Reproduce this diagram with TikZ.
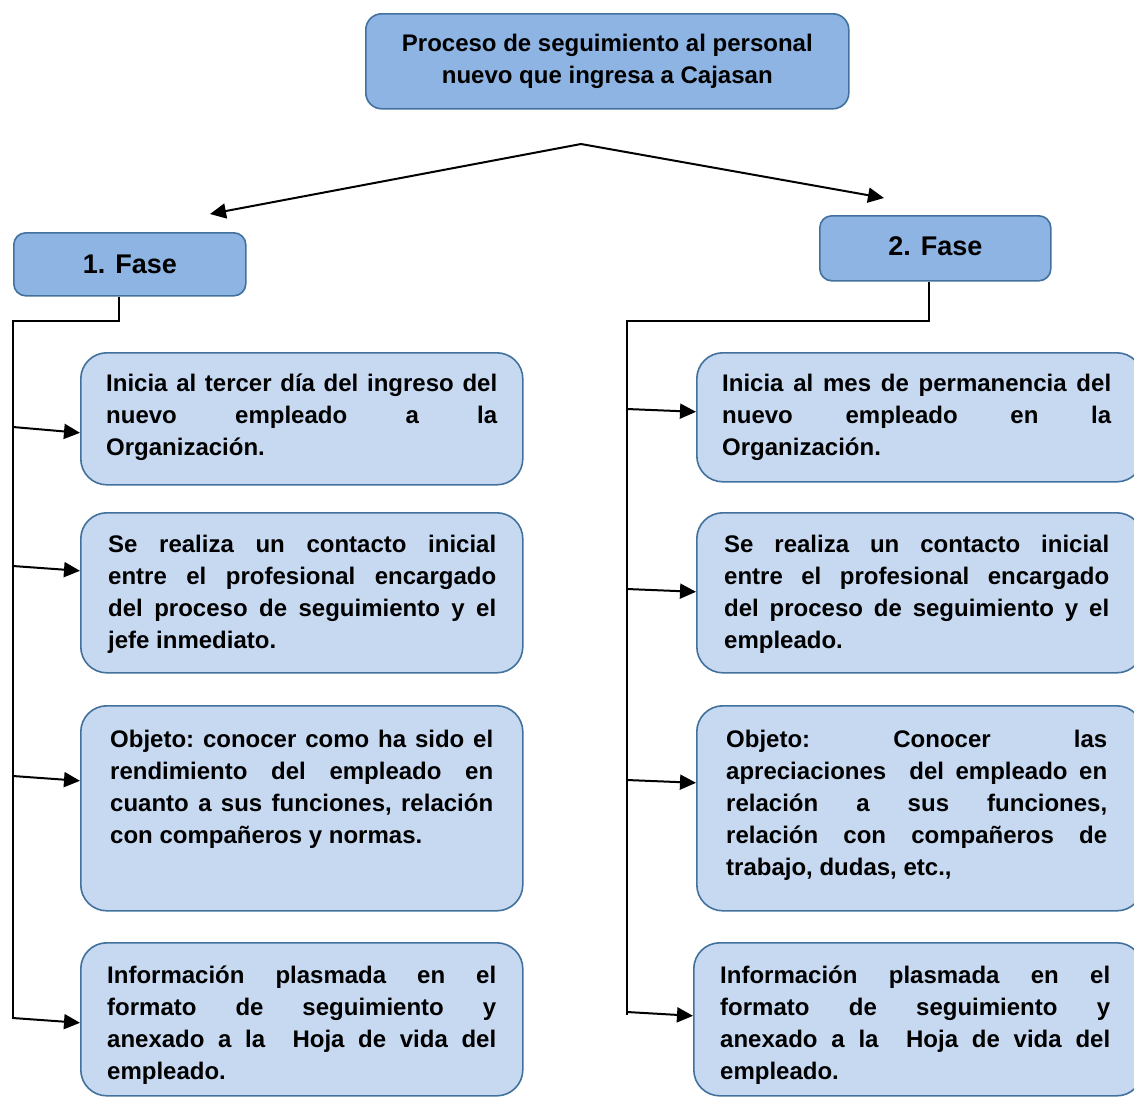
\documentclass[tikz,border=0pt]{standalone}
\usepackage{fontspec}
\setmainfont{Liberation Sans}
\usetikzlibrary{arrows.meta,calc}
\definecolor{boxline}{RGB}{65,113,156}
\definecolor{midblue}{RGB}{142,180,227}
\definecolor{lightblue}{RGB}{198,217,241}
\newcommand\bodyfont{\fontsize{24}{32}\selectfont\bfseries\frenchspacing\tolerance=9999\hbadness=10000\hyphenpenalty=10000\relax}
\newcommand\fasefont{\fontsize{27}{32}\selectfont\bfseries}
\tikzset{
  headbox/.style={draw=boxline, fill=midblue, line width=1.6pt, rounded corners=12pt, inner sep=0pt, align=center, font=\bodyfont, anchor=north west},
  itembox/.style={draw=boxline, fill=lightblue, line width=1.6pt, rounded corners=26pt, inner sep=0pt, anchor=north west},
  txt/.style={anchor=north west, inner sep=0pt, text width=#1, align=justify, font=\bodyfont},
  treeline/.style={draw=black, line width=1.8pt},
  arr/.style={draw=black, line width=2pt, -{Triangle[length=16pt,width=15pt]}},
}
\begin{document}
\begin{tikzpicture}[x=1pt,y=-1pt]
\useasboundingbox (0,0) rectangle (1134,1096);

% header
\node[headbox, minimum width=483pt, minimum height=95pt, rounded corners=16pt] (top) at (365,13) {Proceso de seguimiento al personal\\nuevo que ingresa a Cajasan\rule[-5pt]{0pt}{5pt}};

% phases
\node[headbox, minimum width=232pt, minimum height=63pt, font=\fasefont] (f1) at (13,232) {1. Fase};
\node[headbox, minimum width=231pt, minimum height=65pt, font=\fasefont] (f2) at (819,215) {2. Fase\rule[-5pt]{0pt}{5pt}};

% top arrows
\coordinate (apex) at (581,144);
\coordinate (tl) at (210,214);
\coordinate (tr) at (884,198);
\draw[arr] (apex) -- (tl);
\draw[arr] (apex) -- (tr);

% left boxes
\node[itembox, minimum width=442pt, minimum height=132pt] (b1) at (80,352) {};
\node[itembox, minimum width=442pt, minimum height=160pt] (b2) at (80,512) {};
\node[itembox, minimum width=442pt, minimum height=205pt] (b3) at (80,705) {};
\node[itembox, minimum width=442pt, minimum height=153pt] (b4) at (80,942) {};

% right boxes
\node[itembox, minimum width=446pt, minimum height=129pt] (r1) at (696,352) {};
\node[itembox, minimum width=446pt, minimum height=160pt] (r2) at (696,512) {};
\node[itembox, minimum width=446pt, minimum height=205pt] (r3) at (696,705) {};
\node[itembox, minimum width=449pt, minimum height=153pt] (r4) at (693,942) {};

% texts left
\node[txt=391pt] (tb1) at (106,368.6) {\strut Inicia al tercer día del ingreso del\linebreak nuevo empleado a la\linebreak Organización.};
\node[txt=388pt] (tb2) at (108,529.6) {\strut Se realiza un contacto inicial\linebreak entre el profesional encargado\linebreak del proceso de seguimiento y el\linebreak jefe inmediato.};
\node[txt=383pt] (tb3) at (110,724.6) {\strut Objeto: conocer como ha sido el\linebreak rendimiento del empleado en\linebreak cuanto a sus funciones, relación\linebreak con compañeros y normas.};
\node[txt=389pt] (tb4) at (107,960.6) {\strut Información plasmada en el\linebreak formato de seguimiento y\linebreak anexado a la\ \ Hoja de vida del\linebreak empleado.};

% texts right
\node[txt=389pt] (tr1) at (722,368.6) {\strut Inicia al mes de permanencia del\linebreak nuevo empleado en la\linebreak Organización.};
\node[txt=385pt] (tr2) at (724,529.6) {\strut Se realiza un contacto inicial\linebreak entre el profesional encargado\linebreak del proceso de seguimiento y el\linebreak empleado.};
\node[txt=381pt] (tr3) at (726,724.6) {\strut Objeto:\ \ \ \ Conocer\ \ \ \ las\linebreak apreciaciones\ \ del empleado en\linebreak relación a sus funciones,\linebreak relación con compañeros de\linebreak trabajo, dudas, etc.,};
\node[txt=390pt] (tr4) at (720,960.6) {\strut Información plasmada en el\linebreak formato de seguimiento y\linebreak anexado a la\ \ Hoja de vida del\linebreak empleado.};

% left tree
\coordinate (lt) at (13,321);
\coordinate (lb) at (13,1019);
\draw[treeline] ([xshift=-11pt]f1.south) |- (lt) -- (lb);
\coordinate (l1) at (13,427);
\coordinate (l2) at (13,566);
\coordinate (l3) at (13,776);
\coordinate (l4) at (13,1018);
\draw[arr] (l1) -- ([yshift=-14pt]b1.west);
\draw[arr] (l2) -- ([yshift=22pt]b2.west);
\draw[arr] (l3) -- ([yshift=27.5pt]b3.west);
\draw[arr] (l4) -- ([yshift=-3.5pt]b4.west);

% right tree
\coordinate (rt) at (627,321);
\coordinate (rb) at (627,1015);
\draw[treeline] ([xshift=-6.5pt]f2.south) |- (rt) -- (rb);
\coordinate (m1) at (627,409);
\coordinate (m2) at (627,589);
\coordinate (m3) at (627,780);
\coordinate (m4) at (627,1012);
\draw[arr] (m1) -- ([yshift=5.5pt]r1.west);
\draw[arr] (m2) -- ([yshift=1pt]r2.west);
\draw[arr] (m3) -- ([yshift=25.5pt]r3.west);
\draw[arr] (m4) -- ([yshift=3.5pt]r4.west);
\end{tikzpicture}
\end{document}
